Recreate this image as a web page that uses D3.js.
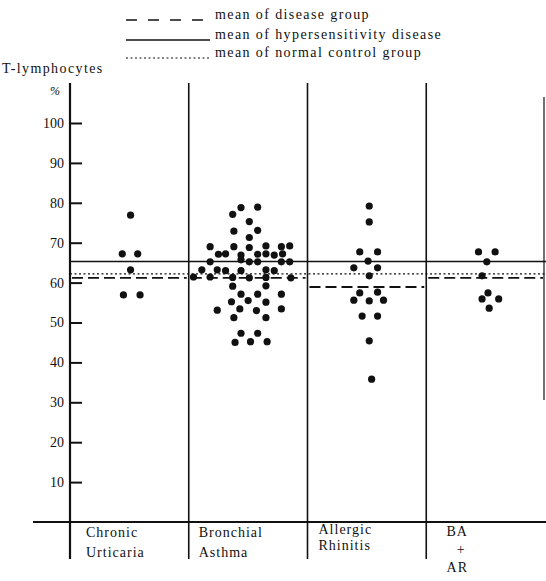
<!DOCTYPE html>
<html>
<head>
<meta charset="utf-8">
<script src="https://cdn.jsdelivr.net/npm/d3@7"></script>
<style>
  body { margin: 0; background: #fff; }
  svg text { font-family: "Liberation Serif", "Times New Roman", Times, "DejaVu Serif", serif; fill: #111; }
</style>
</head>
<body>
<div id="chart"></div>
<script>
// groups along the bottom
var groups = [["Chronic", "Urticaria"], ["Bronchial", "Asthma"], ["Allergic", "Rhinitis"], ["BA", "+", "AR"]];
var yTicks = [10, 20, 30, 40, 50, 60, 70, 80, 90, 100];

// points: [position in group units, T-lymphocytes %]
var cuPoints = [[0.51, 76.9], [0.44, 67.2], [0.57, 67.2], [0.51, 63.2], [0.45, 56.9], [0.59, 56.9]];
var baPoints = [
  [1.44, 78.8], [1.58, 78.9], [1.37, 77.1], [1.51, 75.3], [1.38, 72.9], [1.58, 73.1], [1.51, 71.3],
  [1.18, 69.0], [1.38, 69.0], [1.51, 68.8], [1.65, 69.2], [1.78, 69.0], [1.85, 69.2],
  [1.25, 67.1], [1.31, 67.2], [1.44, 66.9], [1.58, 67.1], [1.65, 67.2], [1.72, 66.9], [1.79, 67.2],
  [1.18, 65.2], [1.44, 65.7], [1.51, 65.2], [1.58, 65.2], [1.78, 65.2], [1.85, 65.2],
  [1.11, 63.2], [1.24, 63.2], [1.31, 63.0], [1.44, 63.0], [1.65, 63.2], [1.72, 63.0],
  [1.04, 61.4], [1.18, 61.4], [1.37, 61.3], [1.51, 61.2], [1.65, 61.3], [1.86, 61.2],
  [1.37, 59.1], [1.65, 59.2],
  [1.44, 57.1], [1.58, 57.1], [1.78, 57.1],
  [1.36, 55.2], [1.50, 55.5], [1.65, 55.1],
  [1.24, 53.1], [1.43, 53.4], [1.57, 53.0], [1.78, 53.4],
  [1.38, 51.2], [1.65, 51.2],
  [1.44, 47.3], [1.58, 47.3],
  [1.39, 45.0], [1.52, 45.2], [1.66, 45.2]
];
var arPoints = [
  [2.52, 79.2], [2.52, 75.2], [2.44, 67.7], [2.59, 67.7], [2.51, 65.4], [2.39, 63.7], [2.59, 63.7],
  [2.52, 61.7], [2.44, 57.4], [2.59, 57.6], [2.39, 55.6], [2.52, 55.4], [2.64, 55.6],
  [2.46, 51.6], [2.59, 51.6], [2.52, 45.4], [2.54, 35.8]
];
var baarPoints = [[3.44, 67.7], [3.58, 67.7], [3.51, 65.2], [3.47, 61.7], [3.52, 57.4], [3.47, 55.9], [3.61, 55.9], [3.53, 53.6]];

// means
var diseaseMeans = [61.2, 61.2, 58.9, 61.2];
var hyperMean = 65.3;
var normalMean = 62.2;

var legendItems = [
  {label: "mean of disease group", dash: "11,11"},
  {label: "mean of hypersensitivity disease", dash: null},
  {label: "mean of normal control group", dash: "2,2.5"}
];

var width = 546, height = 581;
var serif = "'Liberation Serif', 'Times New Roman', Times, 'DejaVu Serif', serif";

var svg = d3.select("#chart")
  .append("svg")
  .attr("width", width)
  .attr("height", height);

var x = d3.scaleLinear().domain([0, 4]).range([70, 545]);
var y = d3.scaleLinear().domain([0, 100]).range([522, 123]);

// frame lines
svg.append("line")
  .attr("x1", 33).attr("x2", 546)
  .attr("y1", y(0)).attr("y2", y(0))
  .attr("stroke", "#111").attr("stroke-width", 2);

[0, 1, 2, 3].forEach(function(i) {
  svg.append("line")
    .attr("x1", x(i)).attr("x2", x(i))
    .attr("y1", 83).attr("y2", 559)
    .attr("stroke", "#111").attr("stroke-width", i == 0 ? 2.2 : 1.6);
});
svg.append("line")
  .attr("x1", x(4) - 1).attr("x2", x(4) - 1)
  .attr("y1", 97).attr("y2", 400)
  .attr("stroke", "#111").attr("stroke-width", 1.2);

// y axis (ticks inward, labels outside)
var yAxis = svg.append("g")
  .attr("transform", "translate(" + x(0) + ",0)")
  .call(d3.axisLeft(y).tickValues(yTicks).tickSizeInner(-12).tickSizeOuter(0).tickPadding(6));
yAxis.attr("font-family", serif).attr("font-size", 14);
yAxis.select(".domain").remove();
yAxis.selectAll(".tick line").attr("stroke", "#111").attr("stroke-width", 2);
yAxis.selectAll(".tick text")
  .attr("font-family", serif)
  .style("font-family", serif)
  .style("font-size", "14px")
  .attr("fill", "#111");

svg.append("text")
  .attr("x", 50).attr("y", 95)
  .attr("font-family", serif)
  .style("font-size", "12px").style("font-style", "italic")
  .text("%");

svg.append("text")
  .attr("x", 2).attr("y", 73)
  .attr("font-family", serif)
  .style("font-size", "14px").style("letter-spacing", "1.4px")
  .text("T-lymphocytes");

// mean lines
svg.append("line")
  .attr("x1", x(0)).attr("x2", 546)
  .attr("y1", y(hyperMean)).attr("y2", y(hyperMean))
  .attr("stroke", "#111").attr("stroke-width", 1.5);

svg.append("line")
  .attr("x1", x(0)).attr("x2", 546)
  .attr("y1", y(normalMean)).attr("y2", y(normalMean))
  .attr("stroke", "#111").attr("stroke-width", 1.3)
  .attr("stroke-dasharray", "2,2.5");

svg.selectAll(".dmean")
  .data(diseaseMeans)
  .enter()
  .append("line")
    .attr("class", "dmean")
    .attr("x1", function(d, i) { return x(i) + 2; })
    .attr("x2", function(d, i) { return x(i + 1) - 2; })
    .attr("y1", function(d) { return y(d); })
    .attr("y2", function(d) { return y(d); })
    .attr("stroke", "#111").attr("stroke-width", 1.8)
    .attr("stroke-dasharray", "11,5");

// dots
var allPoints = cuPoints.concat(baPoints, arPoints, baarPoints);
svg.selectAll("circle")
  .data(allPoints)
  .enter()
  .append("circle")
    .attr("cx", function(d) { return x(d[0]); })
    .attr("cy", function(d) { return y(d[1]); })
    .attr("r", 3.6)
    .style("fill", "#111");

// group labels
var labelOffsets = [16, 10, 11, null];
groups.forEach(function(lines, i) {
  var t = svg.append("g").attr("font-family", serif);
  if (i < 3) {
    lines.forEach(function(s, j) {
      t.append("text")
        .attr("x", x(i) + labelOffsets[i])
        .attr("y", (i == 2 ? 534 : 537) + j * (i == 2 ? 16 : 20))
        .style("font-size", "14px").style("letter-spacing", "1px")
        .text(s);
    });
  } else {
    var ys = [536, 554, 572];
    lines.forEach(function(s, j) {
      t.append("text")
        .attr("x", x(i) + 31 + (s == "+" ? 4 : 0))
        .attr("y", ys[j])
        .attr("text-anchor", "middle")
        .style("font-size", "14px").style("letter-spacing", "1px")
        .text(s);
    });
  }
});

// legend
var legend = svg.selectAll(".legend")
  .data(legendItems)
  .enter()
  .append("g")
    .attr("class", "legend")
    .attr("font-family", serif)
    .attr("transform", function(d, i) { return "translate(0," + [19, 39, 57][i] + ")"; });
legend.append("line")
  .attr("x1", 126).attr("x2", 210)
  .attr("y1", 1).attr("y2", 1)
  .attr("stroke", "#111")
  .attr("stroke-width", function(d) { return d.dash == "2,2.5" ? 1.2 : 1.6; })
  .attr("stroke-dasharray", function(d) { return d.dash; });
legend.append("text")
  .attr("x", 215).attr("y", 0)
  .style("font-size", "14px").style("letter-spacing", "1.4px")
  .text(function(d) { return d.label; });
</script>
</body>
</html>
